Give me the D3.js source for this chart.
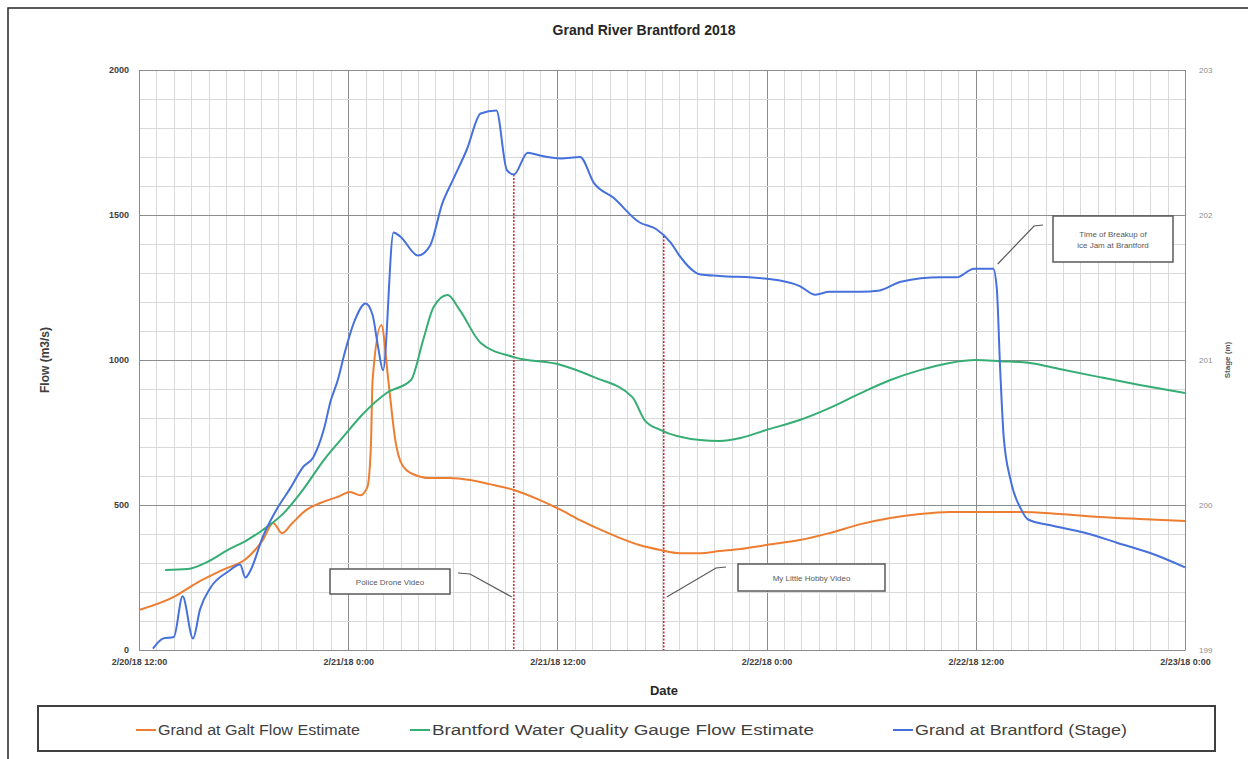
<!doctype html>
<html>
  <head>
    <script src="https://cdn.jsdelivr.net/npm/d3@7"></script>
    <style>
      body { margin: 0; background: #fff; }
      svg { font-family: "Liberation Sans Narrow", "Liberation Sans", Arial, sans-serif; }
      .grid-minor { stroke: #d9d9d9; stroke-width: 1; }
      .grid-major { stroke: #8c8c8c; stroke-width: 1; }
      .tick-label { fill: #404040; font-size: 9px; font-weight: bold; }
      .note rect { fill: #fff; stroke: #595959; stroke-width: 1.5; }
      .note text { fill: #595959; font-size: 8px; text-anchor: middle; }
      .leader { fill: none; stroke: #595959; stroke-width: 1.2; }
    </style>
  </head>
  <body>
    <svg width="1248" height="759"></svg>
    <script>
      // hours after 2/20/18 12:00
      var galtHours = [0, 2, 3.3, 4.8, 6.2, 7.1, 7.7, 8.2, 8.8, 9.6, 10.4, 11.4, 12.1, 12.7, 13.1, 13.3, 13.4, 13.9, 14.3, 14.7, 15.1, 15.7, 16.7, 17.8, 19, 20.1, 21.5, 23, 24.2, 25.3, 26.5, 27.6, 28.7, 29.9, 31, 32.2, 33.3, 34.5, 36, 37.9, 39.6, 41.4, 43.1, 44.8, 46.5, 48, 50.6, 52.8, 55.1, 57.4, 60];
      var galtFlow = [138, 183, 231, 276, 317, 379, 438, 403, 438, 483, 507, 528, 545, 534, 562, 700, 931, 1121, 931, 724, 638, 607, 593, 593, 586, 572, 552, 517, 483, 448, 414, 386, 362, 345, 334, 334, 341, 348, 362, 379, 403, 434, 455, 469, 476, 476, 476, 469, 459, 452, 445];

      var gaugeHours = [1.5, 2.8, 3.9, 5.1, 6.2, 7.1, 8.3, 9.4, 10.6, 11.7, 12.9, 14.2, 15.6, 16.3, 16.9, 17.7, 18.4, 19.6, 21.5, 24.2, 26.1, 28.3, 29, 29.9, 32.2, 33.3, 34.5, 36, 37.9, 39.6, 41.4, 43.1, 44.8, 46.5, 48, 49.4, 51.1, 52.8, 55.1, 57.4, 60];
      var gaugeFlow = [276, 279, 303, 345, 379, 414, 472, 552, 655, 734, 817, 886, 931, 1069, 1183, 1224, 1172, 1059, 1010, 983, 941, 872, 793, 759, 724, 721, 731, 759, 793, 834, 886, 931, 965, 990, 1000, 996, 990, 969, 941, 914, 886];

      var stageHours = [0.8, 1.4, 2, 2.5, 3.1, 3.5, 4.1, 5.1, 5.8, 6.1, 6.4, 7.1, 7.9, 8.7, 9.4, 10, 10.6, 11, 11.4, 11.8, 12.4, 13, 13.4, 13.7, 14, 14.6, 15, 16, 16.7, 17.4, 18, 18.8, 19.6, 20.5, 21.1, 21.5, 22.3, 23, 24.2, 25.3, 26.1, 27.2, 28.7, 29.7, 30.5, 31, 32.2, 33.3, 36, 37.9, 38.8, 39.6, 41.4, 42.5, 43.7, 46, 46.9, 47.9, 49, 49.2, 49.4, 49.6, 50, 50.6, 51, 52.3, 54.2, 56.1, 58.2, 60];
      var stageM = [199.01, 199.08, 199.09, 199.37, 199.08, 199.28, 199.43, 199.54, 199.59, 199.5, 199.55, 199.78, 199.97, 200.12, 200.26, 200.33, 200.52, 200.72, 200.86, 201.05, 201.28, 201.39, 201.31, 201.1, 200.93, 201.88, 201.85, 201.72, 201.79, 202.08, 202.24, 202.45, 202.7, 202.72, 202.31, 202.28, 202.43, 202.41, 202.39, 202.4, 202.22, 202.12, 201.95, 201.9, 201.81, 201.72, 201.59, 201.58, 201.56, 201.51, 201.45, 201.47, 201.47, 201.48, 201.54, 201.57, 201.57, 201.63, 201.63, 201.5, 200.93, 200.47, 200.17, 199.97, 199.9, 199.86, 199.81, 199.74, 199.66, 199.57];

      var flowTicks = [0, 500, 1000, 1500, 2000];
      var stageTicks = [199, 200, 201, 202, 203];
      var videoHours = [21.5, 30.1];
      var videoNames = ["Police Drone Video", "My Little Hobby Video"];
      var breakupHour = 49.2;
      var seriesNames = ["Grand at Galt Flow Estimate", "Brantford Water Quality Gauge Flow Estimate", "Grand at Brantford (Stage)"];
      var seriesColors = ["#ed7d31", "#35ad73", "#4670dc"];

      drawChart();

      function drawChart() {
        var start = new Date(2018, 1, 20, 12, 0);
        var toDate = h => new Date(start.getTime() + h * 3600e3);

        var svg = d3.select("svg");
        var plotLeft = 139, plotRight = 1185, plotTop = 70, plotBottom = 650;

        var x = d3.scaleTime().domain([start, toDate(60)]).range([plotLeft, plotRight]);
        var yFlow = d3.scaleLinear().domain([0, 2000]).range([plotBottom, plotTop]);
        var yStage = d3.scaleLinear().domain([199, 203]).range([plotBottom, plotTop]);

        // outer frame
        svg.append("rect")
          .attr("x", 8).attr("y", 8).attr("width", 1260).attr("height", 780)
          .attr("fill", "none").attr("stroke", "#262626").attr("stroke-width", 1.5);

        // grid
        var grid = svg.append("g");
        grid.selectAll("line.v")
          .data(d3.range(0, 61))
          .enter().append("line")
            .attr("class", d => d % 12 === 0 ? "grid-major" : "grid-minor")
            .attr("x1", d => Math.round(x(toDate(d))) + 0.5)
            .attr("x2", d => Math.round(x(toDate(d))) + 0.5)
            .attr("y1", plotTop).attr("y2", plotBottom);
        grid.selectAll("line.h")
          .data(d3.range(0, 2001, 100))
          .enter().append("line")
            .attr("class", d => d % 500 === 0 ? "grid-major" : "grid-minor")
            .attr("x1", plotLeft).attr("x2", plotRight)
            .attr("y1", d => Math.round(yFlow(d)) + 0.5)
            .attr("y2", d => Math.round(yFlow(d)) + 0.5);

        // left axis
        var leftAxis = svg.append("g")
          .attr("transform", `translate(${plotLeft},0)`)
          .call(d3.axisLeft(yFlow).tickValues(flowTicks).tickFormat(d3.format("d")).tickSize(0).tickPadding(10));
        leftAxis.select(".domain").attr("stroke", "#8c8c8c");
        leftAxis.selectAll("text").attr("class", "tick-label").attr("font-family", null).attr("font-size", null);

        // right axis
        var rightAxis = svg.append("g")
          .attr("transform", `translate(${plotRight},0)`)
          .call(d3.axisRight(yStage).tickValues(stageTicks).tickFormat(d3.format("d")).tickSize(0).tickPadding(14));
        rightAxis.select(".domain").remove();
        rightAxis.selectAll("text")
          .attr("font-family", null).attr("font-size", "8px").attr("fill", "#8c8c8c");

        // bottom axis
        var bottomAxis = svg.append("g")
          .attr("transform", `translate(0,${plotBottom})`)
          .call(d3.axisBottom(x)
            .tickValues(d3.range(0, 61, 12).map(toDate))
            .tickFormat(d3.timeFormat("%-m/%-d/%y %-H:%M"))
            .tickSize(0).tickPadding(9));
        bottomAxis.select(".domain").attr("stroke", "#8c8c8c");
        bottomAxis.selectAll("text").attr("class", "tick-label").attr("font-family", null).attr("font-size", null);

        // titles
        svg.append("text")
          .attr("x", 644).attr("y", 35)
          .attr("text-anchor", "middle")
          .attr("font-size", "14px").attr("font-weight", "bold").attr("fill", "#262626")
          .text("Grand River Brantford 2018");
        svg.append("text")
          .attr("x", 664).attr("y", 695)
          .attr("text-anchor", "middle")
          .attr("font-size", "13px").attr("font-weight", "bold").attr("fill", "#262626")
          .text("Date");
        svg.append("text")
          .attr("transform", "translate(49,360) rotate(-90)")
          .attr("text-anchor", "middle")
          .attr("font-size", "12px").attr("font-weight", "bold").attr("fill", "#404040")
          .text("Flow (m3/s)");
        svg.append("text")
          .attr("transform", "translate(1230,360) rotate(-90)")
          .attr("text-anchor", "middle")
          .attr("font-size", "8px").attr("font-weight", "bold").attr("fill", "#595959")
          .text("Stage (m)");

        // video marker lines, from the stage line to the axis
        var stageAt = h => {
          var i = d3.bisectLeft(stageHours, h);
          var t = (h - stageHours[i - 1]) / (stageHours[i] - stageHours[i - 1]);
          return stageM[i - 1] + t * (stageM[i] - stageM[i - 1]);
        };
        svg.selectAll("line.video")
          .data(videoHours)
          .enter().append("line")
            .attr("class", "video")
            .attr("x1", d => x(toDate(d))).attr("x2", d => x(toDate(d)))
            .attr("y1", d => yStage(stageAt(d))).attr("y2", plotBottom)
            .attr("stroke", "#e02020").attr("stroke-width", 1.5)
            .attr("stroke-dasharray", "2,1.5");

        // series
        var flowLine = d3.line()
          .x(d => x(toDate(d[0])))
          .y(d => yFlow(d[1]))
          .curve(d3.curveMonotoneX);
        var stageLine = d3.line()
          .x(d => x(toDate(d[0])))
          .y(d => yStage(d[1]))
          .curve(d3.curveMonotoneX);

        svg.append("path")
          .datum(d3.zip(galtHours, galtFlow))
          .attr("fill", "none").attr("stroke", seriesColors[0]).attr("stroke-width", 2)
          .attr("d", flowLine);
        svg.append("path")
          .datum(d3.zip(gaugeHours, gaugeFlow))
          .attr("fill", "none").attr("stroke", seriesColors[1]).attr("stroke-width", 2)
          .attr("d", flowLine);
        svg.append("path")
          .datum(d3.zip(stageHours, stageM))
          .attr("fill", "none").attr("stroke", seriesColors[2]).attr("stroke-width", 2)
          .attr("d", stageLine);

        // annotations
        function note(bx, by, bw, bh, lines, leader) {
          var g = svg.append("g").attr("class", "note");
          g.append("rect").attr("x", bx).attr("y", by).attr("width", bw).attr("height", bh);
          g.selectAll("text")
            .data(lines)
            .enter().append("text")
              .attr("x", bx + bw / 2)
              .attr("y", (d, i) => by + bh / 2 + 3 + (i - (lines.length - 1) / 2) * 11)
              .text(d => d);
          svg.append("path").attr("class", "leader").attr("d", d3.line()(leader));
        }
        var v0 = x(toDate(videoHours[0])), v1 = x(toDate(videoHours[1]));
        var bk = x(toDate(breakupHour));
        note(330, 569, 120, 25, [videoNames[0]],
          [[458, 573], [470, 574], [v0 - 2, 597]]);
        note(738, 564, 147, 27, [videoNames[1]],
          [[726, 567], [716, 568], [v1 + 3, 597]]);
        note(1053, 216, 120, 46, ["Time of Breakup of", "ice Jam at Brantford"],
          [[1043, 225], [1034, 226], [bk + 1, 264]]);

        // legend
        svg.append("rect")
          .attr("x", 38).attr("y", 706).attr("width", 1177).attr("height", 45)
          .attr("fill", "#fff").attr("stroke", "#404040").attr("stroke-width", 2);
        var legendX = [136, 410, 893];
        var legendW = [202, 382, 212];
        var legend = svg.selectAll("g.legend")
          .data(seriesNames)
          .enter().append("g")
            .attr("class", "legend")
            .attr("transform", (d, i) => `translate(${legendX[i]},730)`);
        legend.append("line")
          .attr("x1", 0).attr("x2", 20)
          .attr("stroke", (d, i) => seriesColors[i]).attr("stroke-width", 2);
        legend.append("text")
          .attr("x", 22).attr("y", 5)
          .attr("font-size", "14px").attr("fill", "#404040")
          .attr("textLength", (d, i) => legendW[i])
          .attr("lengthAdjust", "spacingAndGlyphs")
          .text(d => d);
      }
    </script>
  </body>
</html>
